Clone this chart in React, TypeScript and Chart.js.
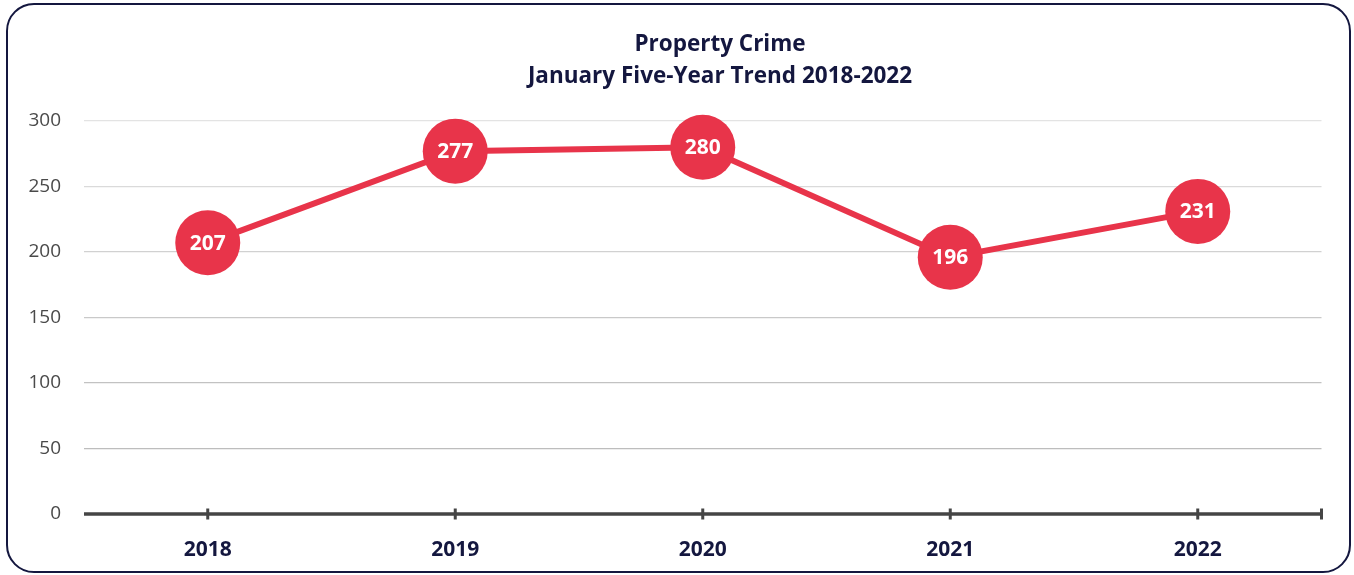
import React, { useEffect, useRef } from "react";
import { Chart, registerables } from "chart.js";

Chart.register(...registerables);

const categories = ["2018", "2019", "2020", "2021", "2022"];
const propertyCrime = [207, 277, 280, 196, 231];
const titleLines = ["Property Crime", "January Five-Year Trend 2018-2022"];
const yTicks = [0, 50, 100, 150, 200, 250, 300];

const RED = "#e8344a";
const NAVY = "#14173f";
const FONT = "'Open Sans', Lato, sans-serif";

const gridShades: Record<number, string> = {
  0: "#bdbdbd",
  50: "#bdbdbd",
  100: "#c2c2c2",
  150: "#c9c9c9",
  200: "#d1d1d1",
  250: "#dadada",
  300: "#e3e3e3",
};

const overlayPlugin = {
  id: "overlay",
  afterDatasetsDraw(chart: any) {
    const { ctx, chartArea } = chart;
    const x = chart.scales.x;
    const y = chart.scales.y;
    ctx.save();
    // axis line
    const y0 = y.getPixelForValue(0);
    ctx.strokeStyle = "#454545";
    ctx.lineWidth = 3.5;
    ctx.beginPath();
    ctx.moveTo(chartArea.left, y0);
    ctx.lineTo(chartArea.right + 1, y0);
    ctx.stroke();
    ctx.lineWidth = 3;
    const tickXs = categories.map((_, i) => x.getPixelForValue(i));
    tickXs.push(chartArea.right);
    tickXs.forEach((tx) => {
      ctx.beginPath();
      ctx.moveTo(tx, y0 - 5.5);
      ctx.lineTo(tx, y0 + 5.5);
      ctx.stroke();
    });
    ctx.restore();

    // data labels
    const meta = chart.getDatasetMeta(0);
    ctx.save();
    ctx.fillStyle = "#ffffff";
    ctx.font = `bold 21px ${FONT}`;
    ctx.textAlign = "center";
    ctx.textBaseline = "middle";
    meta.data.forEach((pt: any, i: number) => {
      ctx.fillText(String(propertyCrime[i]), pt.x, pt.y + 1);
    });
    ctx.restore();

    // title
    ctx.save();
    ctx.fillStyle = NAVY;
    ctx.font = `bold 22.5px ${FONT}`;
    ctx.textAlign = "center";
    ctx.textBaseline = "middle";
    const cx = 720;
    ctx.fillText(titleLines[0], cx, 45);
    ctx.fillText(titleLines[1], cx, 77);
    ctx.restore();
  },
};

export default function App() {
  const ref = useRef<HTMLCanvasElement | null>(null);

  useEffect(() => {
    document.body.style.margin = "0";
    const canvas = ref.current!;
    const chart = new Chart(canvas, {
      type: "line",
      data: {
        labels: categories,
        datasets: [
          {
            data: propertyCrime,
            borderColor: RED,
            backgroundColor: RED,
            borderWidth: 6,
            pointRadius: 32.5,
            pointHoverRadius: 32.5,
            pointBackgroundColor: RED,
            pointBorderColor: RED,
            pointBorderWidth: 0,
            tension: 0,
            clip: false as any,
          },
        ],
      },
      options: {
        animation: false,
        responsive: false,
        maintainAspectRatio: false,
        events: [],
        layout: { padding: { top: 121, left: 0, right: 31, bottom: 0 } },
        plugins: {
          legend: { display: false },
          title: { display: false },
          tooltip: { enabled: false },
        },
        scales: {
          x: {
            type: "category",
            offset: true,
            grid: { display: false },
            border: { display: false },
            ticks: {
              color: NAVY,
              padding: 15,
              font: { family: FONT, size: 21, weight: "bold" },
            },
            afterFit(scale: any) {
              scale.height = 61;
            },
          },
          y: {
            min: 0,
            max: 300,
            afterBuildTicks(scale: any) {
              scale.ticks = yTicks.map((v) => ({ value: v }));
            },
            grid: {
              drawTicks: false,
              lineWidth: 1.2,
              color: (c: any) => gridShades[c.tick?.value] ?? "#d0d0d0",
            },
            border: { display: false },
            ticks: {
              color: "#4a4a4a",
              padding: 23,
              font: { family: FONT, size: 19 },
            },
            afterFit(scale: any) {
              scale.width = 84;
            },
          },
        },
      },
      plugins: [overlayPlugin],
    });
    return () => chart.destroy();
  }, []);

  return (
    <div style={{ position: "relative", width: 1354, height: 575, background: "#fff" }}>
      <canvas
        ref={ref}
        width={1354}
        height={575}
        style={{ position: "absolute", left: 0, top: 0, width: 1354, height: 575 }}
      />
      <div
        style={{
          position: "absolute",
          left: 6,
          top: 3,
          width: 1345,
          height: 570,
          boxSizing: "border-box",
          border: `2.5px solid ${NAVY}`,
          borderRadius: 28,
          pointerEvents: "none",
        }}
      />
    </div>
  );
}
